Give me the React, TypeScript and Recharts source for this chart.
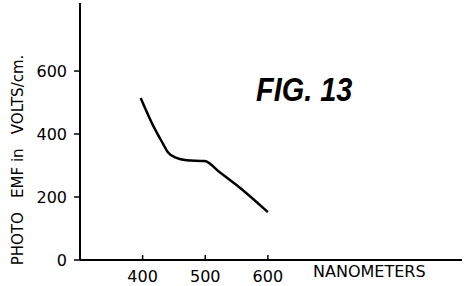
import { LineChart, Line, XAxis, YAxis } from 'recharts'

const wavelengths = [397, 418, 432, 440, 454, 470, 499, 523, 550, 600]
const photoEmf = [514, 422, 371, 343, 324, 317, 314, 279, 238, 152]
const xTicks = [400, 500, 600]
const yTicks = [0, 200, 400, 600]

const data = wavelengths.map((nm, i) => ({ nm, emf: photoEmf[i] }))

const font = '"DejaVu Sans", sans-serif'

function XTick({ x, y, payload }: any) {
  return (
    <g>
      <line x1={x} y1={y} x2={x} y2={y - 5} stroke="#000" strokeWidth={1.5} />
      <text x={x} y={y + 22} textAnchor="middle" fontSize={16} fontFamily={font} fill="#000">
        {payload.value}
      </text>
    </g>
  )
}

function YTick({ x, y, payload }: any) {
  return (
    <g>
      <line x1={x} y1={y} x2={x - 6} y2={y} stroke="#000" strokeWidth={1.5} />
      <text x={x - 13} y={y} dy="0.36em" textAnchor="end" fontSize={16} fontFamily={font} fill="#000">
        {payload.value}
      </text>
    </g>
  )
}

export default function App() {
  return (
    <div style={{ position: 'absolute', left: 0, top: 0, width: 465, height: 286, background: '#fff' }}>
      <LineChart width={465} height={286} data={data} margin={{ top: 3, right: 3, left: 0, bottom: 0 }}>
        <XAxis
          dataKey="nm"
          type="number"
          domain={[300, 910]}
          ticks={xTicks}
          height={26}
          tickSize={0}
          tickMargin={0}
          tickLine={false}
          axisLine={{ stroke: '#000', strokeWidth: 2 }}
          tick={<XTick />}
        />
        <YAxis
          type="number"
          domain={[0, 816]}
          ticks={yTicks}
          width={80}
          tickSize={0}
          tickMargin={0}
          tickLine={false}
          axisLine={{ stroke: '#000', strokeWidth: 2 }}
          tick={<YTick />}
        />
        <Line
          dataKey="emf"
          type="monotone"
          stroke="#000"
          strokeWidth={2.5}
          dot={false}
          isAnimationActive={false}
        />
      </LineChart>
      <div
        style={{
          position: 'absolute',
          left: 313,
          top: 264,
          fontFamily: font,
          fontSize: 16,
          lineHeight: '16px',
          color: '#000',
          whiteSpace: 'nowrap',
        }}
      >
        NANOMETERS
      </div>
      <div
        style={{
          position: 'absolute',
          left: 18,
          top: 160,
          transform: 'translate(-50%, -50%) rotate(-90deg)',
          fontFamily: font,
          fontSize: 15,
          lineHeight: '15px',
          color: '#000',
          whiteSpace: 'pre',
        }}
      >
        {'PHOTO   EMF in   VOLTS/cm.'}
      </div>
      <div
        style={{
          position: 'absolute',
          left: 256,
          top: 72,
          fontFamily: '"Liberation Sans", sans-serif',
          fontStyle: 'italic',
          fontWeight: 'bold',
          fontSize: 34,
          lineHeight: '34px',
          color: '#000',
          whiteSpace: 'nowrap',
          transform: 'scaleX(0.85)',
          transformOrigin: 'left top',
        }}
      >
        FIG. 13
      </div>
    </div>
  )
}
